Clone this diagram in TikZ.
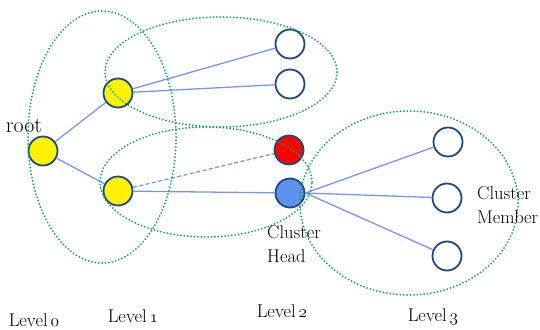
\documentclass[tikz,border=0pt]{standalone}
\usepackage{fontspec}
\usepackage{tikz}
\newcommand\osn[1]{{\usefont{OML}{cmm}{m}{it}#1}}
\definecolor{ndline}{RGB}{31,73,125}
\definecolor{hdfill}{RGB}{95,145,240}
\definecolor{grn}{RGB}{20,160,80}
\definecolor{lnk}{RGB}{120,150,230}
\begin{document}
\begin{tikzpicture}[x=1pt,y=-1pt,
  nd/.style={circle, draw=ndline, line width=1.8pt, minimum size=29pt, inner sep=0pt, fill=white},
  grp/.style={draw=grn, line width=2pt, dash pattern=on 0pt off 3.4pt, line cap=round},
  con/.style={draw=lnk, line width=1.3pt},
  dcon/.style={con, dash pattern=on 4pt off 2.5pt},
  lbl/.style={inner sep=0pt, font=\fontsize{18.5}{24}\selectfont, text=black}]
\useasboundingbox (0,0) rectangle (540,329);
% nodes
\node[nd, fill=yellow] (root) at (43,151) {};
\node[nd, fill=yellow] (a) at (118,93) {};
\node[nd, fill=yellow] (b) at (118,191) {};
\node[nd] (w1) at (290,44) {};
\node[nd] (w2) at (290,84) {};
\node[nd, fill=red] (rd) at (289,150) {};
\node[nd, fill=hdfill] (hd) at (290,193) {};
\node[nd] (m1) at (448,142) {};
\node[nd] (m2) at (447,198) {};
\node[nd] (m3) at (447,256) {};
% connectors
\draw[con] (root) -- (a);
\draw[con] (root) -- (b);
\draw[con] (a) -- (w1);
\draw[con] (a) -- (w2);
\draw[dcon] (b) -- (rd);
\draw[con] (b) -- (hd);
\draw[con] (hd.east) -- (m1);
\draw[con] (hd.east) -- (m2);
\draw[con] (hd.east) -- (m3);
% clusters
\draw[grp] (102,137) ellipse [x radius=74pt, y radius=126pt];
\draw[grp] (221,72) ellipse [x radius=116pt, y radius=55pt];
\draw[grp] (206,182) ellipse [x radius=106pt, y radius=55pt];
\draw[grp] (409,203) ellipse [x radius=109pt, y radius=92pt];
% labels
\node[lbl, font=\fontsize{22}{24}\selectfont] (rt) at (24,126) {root};
\node[lbl, anchor=west, align=left] (ch) at (267,244) {Cluster\\Head};
\node[lbl, anchor=west, align=left] (cm) at (477,205) {Cluster\\Member};
\node[lbl] (l0) at (34,320) {Level\,\osn{0}};
\node[lbl] (l1) at (133,316) {Level\,\osn{1}};
\node[lbl] (l2) at (282,311) {Level\,\osn{2}};
\node[lbl] (l3) at (433,317) {Level\,\osn{3}};
\end{tikzpicture}
\end{document}
